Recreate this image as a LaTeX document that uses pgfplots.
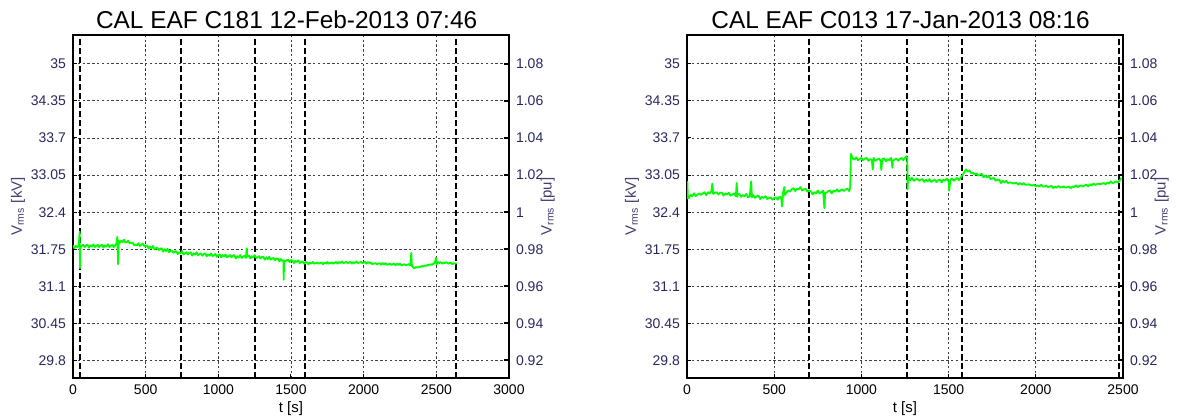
\documentclass[border=0pt]{standalone}
\usepackage{pgfplots}
\pgfplotsset{compat=1.18}
\usepackage{fontspec}
\setmainfont{Liberation Sans}

\definecolor{tickblue}{RGB}{40,40,95}
\definecolor{labpurple}{RGB}{70,60,110}
\definecolor{vgreen}{RGB}{0,255,0}

\pgfplotsset{
  panel/.style={
    scale only axis, width=218pt, height=171.5pt, anchor=south west,
    ymin=29.5, ymax=35.5,
    ytick={29.8,30.45,31.1,31.75,32.4,33.05,33.7,34.35,35},
    yticklabels={29.8,30.45,31.1,31.75,32.4,33.05,33.7,34.35,35},
    ytick pos=left, xtick pos=bottom,
    tick align=inside, major tick length=2pt,
    tick style={black, line width=0.5pt},
    /pgf/number format/assume math mode=true,
    tick label style={font=\fontsize{7}{8}\selectfont},
    yticklabel style={text=tickblue},
    grid=major,
    grid style={black!75, line width=0.4pt, dash pattern=on 1.2pt off 1.2pt},
    axis line style={black, line width=0.6pt},
    xlabel={t [s]},
    xlabel style={font=\fontsize{7.5}{9}\selectfont, at={(axis description cs:0.5,-0.09)}, anchor=center},
    ylabel={V\textsubscript{rms} [kV]},
    ylabel style={font=\fontsize{7.5}{9}\selectfont, text=labpurple, at={(axis description cs:-0.126,0.5)}, anchor=center},
    every axis title/.style={at={(0.49,1)}, anchor=base, yshift=3.5pt, font=\fontsize{12.2}{14}\selectfont},
  },
  pupanel/.style={
    scale only axis, width=218pt, height=171.5pt, anchor=south west,
    ymin=0.910494, ymax=1.095679,
    axis y line*=right, axis x line=none,
    ytick={0.92,0.94,0.96,0.98,1,1.02,1.04,1.06,1.08},
    yticklabels={0.92,0.94,0.96,0.98,1,1.02,1.04,1.06,1.08},
    tick align=inside, major tick length=2.5pt,
    tick style={black, line width=0.9pt},
    /pgf/number format/assume math mode=true,
    tick label style={font=\fontsize{7}{8}\selectfont},
    yticklabel style={text=tickblue},
    axis line style={black, line width=0.6pt},
    ylabel={V\textsubscript{rms} [pu]},
    ylabel style={font=\fontsize{7.5}{9}\selectfont, text=labpurple, at={(axis description cs:1.089,0.5)}, anchor=center},
  },
  evt/.style={black, line width=1pt, dash pattern=on 3pt off 1.5pt},
  vser/.style={vgreen, line width=0.9pt, line join=round},
}

\begin{document}
\begin{tikzpicture}
\useasboundingbox (0,0) rectangle (589pt,209.5pt);

% left panel
\begin{axis}[panel, at={(36.5pt,20.5pt)},
  xmin=0, xmax=3000, xtick={0,500,1000,1500,2000,2500,3000},
  xticklabels={0,500,1000,1500,2000,2500,3000},
  title={CAL EAF C181 12-Feb-2013 07:46}]
\addplot[evt] coordinates {(48,29.5) (48,35.5)};
\addplot[evt] coordinates {(746,29.5) (746,35.5)};
\addplot[evt] coordinates {(1250,29.5) (1250,35.5)};
\addplot[evt] coordinates {(1597,29.5) (1597,35.5)};
\addplot[evt] coordinates {(2637,29.5) (2637,35.5)};
\addplot[vser] coordinates {
(0,31.82) (10,31.77) (20,31.81) (30,31.79) (40,31.83) (46,32.06) (48,31.42) (50,31.78)
(60,31.81) (70,31.83) (80,31.79) (90,31.82) (100,31.83) (110,31.78) (120,31.82) (130,31.80)
(140,31.84) (150,31.79) (160,31.81) (170,31.83) (180,31.79) (190,31.82) (200,31.83) (210,31.78)
(220,31.82) (230,31.80) (240,31.84) (250,31.79) (260,31.81) (270,31.83) (280,31.79) (290,31.82)
(300,31.86) (305,31.97) (310,31.49) (315,31.90) (320,31.86) (330,31.90) (340,31.88) (350,31.92)
(360,31.87) (370,31.88) (380,31.90) (390,31.86) (400,31.86) (410,31.87) (420,31.82) (430,31.84)
(440,31.82) (450,31.86) (460,31.81) (470,31.83) (480,31.85) (490,31.81) (500,31.81) (510,31.82)
(520,31.76) (530,31.80) (540,31.77) (550,31.81) (560,31.75) (570,31.77) (580,31.78) (590,31.74)
(600,31.76) (610,31.77) (620,31.71) (630,31.75) (640,31.72) (650,31.76) (660,31.70) (670,31.72)
(680,31.73) (690,31.69) (700,31.71) (710,31.72) (720,31.67) (730,31.70) (740,31.68) (750,31.72)
(760,31.66) (770,31.68) (780,31.70) (790,31.66) (800,31.69) (810,31.70) (820,31.64) (830,31.68)
(840,31.66) (850,31.70) (860,31.65) (870,31.67) (880,31.68) (890,31.64) (900,31.67) (910,31.68)
(920,31.63) (930,31.66) (940,31.64) (950,31.68) (960,31.63) (970,31.65) (980,31.67) (990,31.62)
(1000,31.65) (1010,31.66) (1020,31.61) (1030,31.65) (1040,31.63) (1050,31.66) (1060,31.61) (1070,31.63)
(1080,31.65) (1090,31.61) (1100,31.64) (1110,31.65) (1120,31.59) (1130,31.63) (1140,31.61) (1150,31.65)
(1160,31.60) (1170,31.62) (1180,31.64) (1190,31.60) (1195,31.77) (1200,31.63) (1210,31.64) (1220,31.59)
(1230,31.63) (1240,31.61) (1250,31.65) (1260,31.60) (1270,31.61) (1280,31.63) (1290,31.59) (1300,31.62)
(1310,31.62) (1320,31.57) (1330,31.61) (1340,31.58) (1350,31.62) (1360,31.57) (1370,31.59) (1380,31.60)
(1390,31.56) (1400,31.59) (1410,31.59) (1420,31.54) (1430,31.58) (1440,31.55) (1448,31.56) (1450,31.22)
(1452,31.55) (1460,31.54) (1470,31.56) (1480,31.57) (1490,31.53) (1500,31.56) (1510,31.56) (1520,31.51)
(1530,31.55) (1540,31.53) (1550,31.56) (1560,31.51) (1570,31.53) (1580,31.54) (1590,31.50) (1600,31.53)
(1610,31.52) (1620,31.49) (1630,31.52) (1640,31.50) (1650,31.53) (1660,31.50) (1670,31.51) (1680,31.52)
(1690,31.50) (1700,31.51) (1710,31.52) (1720,31.49) (1730,31.52) (1740,31.50) (1750,31.53) (1760,31.50)
(1770,31.51) (1780,31.52) (1790,31.50) (1800,31.52) (1810,31.53) (1820,31.50) (1830,31.53) (1840,31.51)
(1850,31.54) (1860,31.51) (1870,31.52) (1880,31.53) (1890,31.51) (1900,31.52) (1910,31.53) (1920,31.50)
(1930,31.53) (1940,31.51) (1950,31.54) (1960,31.51) (1970,31.52) (1980,31.53) (1990,31.51) (2000,31.52)
(2010,31.53) (2020,31.50) (2030,31.53) (2040,31.51) (2050,31.52) (2060,31.49) (2070,31.50) (2080,31.51)
(2090,31.49) (2100,31.50) (2110,31.51) (2120,31.48) (2130,31.51) (2140,31.49) (2150,31.51) (2160,31.48)
(2170,31.49) (2180,31.50) (2190,31.48) (2200,31.49) (2210,31.50) (2220,31.47) (2230,31.50) (2240,31.48)
(2250,31.50) (2260,31.47) (2270,31.48) (2280,31.49) (2290,31.47) (2300,31.48) (2310,31.49) (2320,31.47)
(2328,31.69) (2332,31.46) (2340,31.44) (2350,31.42) (2360,31.44) (2370,31.43) (2380,31.45) (2390,31.44)
(2400,31.46) (2410,31.45) (2420,31.47) (2430,31.46) (2440,31.48) (2450,31.47) (2460,31.49) (2470,31.48)
(2480,31.50) (2490,31.52) (2497,31.60) (2502,31.49) (2510,31.53) (2520,31.51) (2530,31.53) (2540,31.50)
(2550,31.52) (2560,31.51) (2570,31.53) (2580,31.50) (2590,31.51) (2600,31.52) (2610,31.49) (2620,31.51)
(2630,31.50) (2640,31.51)
};
\end{axis}
\begin{axis}[pupanel, at={(36.5pt,20.5pt)}, xmin=0, xmax=3000]
\end{axis}

% right panel
\begin{axis}[panel, at={(343.5pt,20.5pt)},
  xmin=0, xmax=2500, xtick={0,500,1000,1500,2000,2500},
  xticklabels={0,500,1000,1500,2000,2500},
  title={CAL EAF C013 17-Jan-2013 08:16}]
\addplot[evt] coordinates {(699,29.5) (699,35.5)};
\addplot[evt] coordinates {(1263,29.5) (1263,35.5)};
\addplot[evt] coordinates {(1575,29.5) (1575,35.5)};
\addplot[evt] coordinates {(2476,29.5) (2476,35.5)};
\addplot[vser] coordinates {
(0,32.66) (2,32.93) (5,32.64) (10,32.65) (20,32.70) (30,32.68) (40,32.73) (50,32.68)
(60,32.71) (70,32.73) (80,32.70) (90,32.73) (100,32.75) (110,32.70) (120,32.75) (130,32.73)
(140,32.77) (145,32.90) (150,32.72) (160,32.74) (170,32.75) (180,32.71) (190,32.74) (200,32.74)
(210,32.69) (220,32.73) (230,32.71) (240,32.74) (250,32.69) (260,32.71) (270,32.73) (280,32.68)
(285,32.91) (288,32.67) (290,32.71) (300,32.72) (310,32.67) (320,32.70) (330,32.68) (340,32.72)
(350,32.66) (360,32.68) (368,32.94) (372,32.66) (380,32.70) (390,32.65) (400,32.68) (410,32.69)
(420,32.63) (430,32.67) (440,32.65) (450,32.68) (460,32.63) (470,32.65) (480,32.66) (490,32.62)
(500,32.65) (510,32.66) (520,32.62) (530,32.67) (540,32.66) (545,32.50) (550,32.73) (558,32.84)
(560,32.70) (570,32.74) (580,32.78) (590,32.76) (600,32.80) (610,32.82) (620,32.77) (630,32.81)
(640,32.80) (650,32.84) (660,32.78) (670,32.80) (680,32.81) (690,32.76) (700,32.78) (710,32.77)
(720,32.71) (730,32.75) (740,32.73) (750,32.78) (760,32.73) (770,32.75) (780,32.78) (788,32.47)
(792,32.74) (800,32.74) (810,32.77) (820,32.78) (830,32.73) (840,32.78) (850,32.76) (860,32.80)
(870,32.76) (880,32.78) (890,32.80) (900,32.77) (910,32.80) (920,32.81) (930,32.77) (936,32.84)
(940,33.42) (950,33.34) (960,33.32) (970,33.36) (980,33.31) (990,33.33) (1000,33.35) (1010,33.31)
(1020,33.34) (1030,33.35) (1040,33.30) (1050,33.33) (1060,33.31) (1065,33.15) (1070,33.35) (1080,33.30)
(1090,33.32) (1100,33.34) (1110,33.30) (1114,33.14) (1120,33.33) (1130,33.34) (1140,33.29) (1150,33.33)
(1160,33.31) (1170,33.35) (1178,33.18) (1180,33.30) (1190,33.32) (1200,33.34) (1210,33.30) (1220,33.33)
(1230,33.35) (1240,33.31) (1250,33.35) (1258,33.38) (1263,33.34) (1265,32.80) (1268,33.03) (1280,32.96)
(1290,33.00) (1300,32.95) (1310,32.97) (1320,32.99) (1330,32.95) (1340,32.97) (1350,32.98) (1360,32.93)
(1370,32.97) (1380,32.94) (1390,32.98) (1400,32.93) (1410,32.95) (1420,32.97) (1430,32.93) (1440,32.96)
(1450,32.97) (1460,32.92) (1470,32.97) (1480,32.95) (1490,32.99) (1500,32.94) (1503,32.78) (1510,32.97)
(1520,32.99) (1530,32.95) (1540,32.98) (1550,33.00) (1560,32.96) (1570,33.01) (1580,33.05) (1590,33.10)
(1600,33.15) (1610,33.11) (1620,33.13) (1630,33.08) (1640,33.09) (1650,33.06) (1660,33.08) (1670,33.04)
(1680,33.06) (1690,33.07) (1700,33.01) (1710,33.04) (1720,33.01) (1730,33.04) (1740,32.98) (1750,32.99)
(1760,33.00) (1770,32.95) (1780,32.97) (1790,32.97) (1800,32.91) (1810,32.95) (1820,32.92) (1830,32.95)
(1840,32.91) (1850,32.92) (1860,32.92) (1870,32.90) (1880,32.91) (1890,32.91) (1900,32.88) (1910,32.91)
(1920,32.88) (1930,32.91) (1940,32.88) (1950,32.88) (1960,32.89) (1970,32.87) (1980,32.87) (1990,32.88)
(2000,32.85) (2010,32.87) (2020,32.85) (2030,32.88) (2040,32.85) (2050,32.85) (2060,32.86) (2070,32.84)
(2080,32.85) (2090,32.86) (2100,32.82) (2110,32.85) (2120,32.83) (2130,32.86) (2140,32.83) (2150,32.84)
(2160,32.85) (2170,32.83) (2180,32.84) (2190,32.85) (2200,32.82) (2210,32.85) (2220,32.84) (2230,32.87)
(2240,32.84) (2250,32.86) (2260,32.87) (2270,32.85) (2280,32.87) (2290,32.88) (2300,32.85) (2310,32.89)
(2320,32.87) (2330,32.90) (2340,32.88) (2350,32.89) (2360,32.90) (2370,32.89) (2380,32.90) (2390,32.91)
(2400,32.89) (2410,32.92) (2420,32.90) (2430,32.94) (2440,32.91) (2450,32.92) (2460,32.94) (2470,32.92)
(2480,32.95) (2490,33.00)
};
\end{axis}
\begin{axis}[pupanel, at={(343.5pt,20.5pt)}, xmin=0, xmax=2500]
\end{axis}
\end{tikzpicture}
\end{document}
